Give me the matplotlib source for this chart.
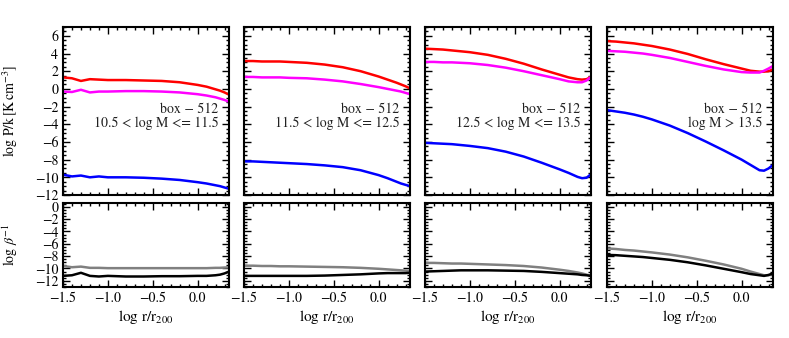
import numpy as np
import matplotlib
matplotlib.use("Agg")
import matplotlib.pyplot as plt
from matplotlib.ticker import MultipleLocator

plt.rcParams['font.family'] = 'serif'
plt.rcParams['font.serif'] = ['STIXGeneral', 'Liberation Serif', 'DejaVu Serif']
plt.rcParams['mathtext.fontset'] = 'stix'
plt.rcParams['font.size'] = 9

# ------------------------------------------------------------------
# data (log r/r200 grid shared by all curves)
# ------------------------------------------------------------------
x = [-1.5, -1.4, -1.3, -1.2, -1.1, -1.0, -0.8, -0.6, -0.4, -0.2,
     0.0, 0.1, 0.2, 0.25, 0.3, 0.35]

mass_bins = ['10.5 < log M <= 11.5',
             '11.5 < log M <= 12.5',
             '12.5 < log M <= 13.5',
             'log M > 13.5']

# top row: log P/k  (red, magenta, blue)
red_1 = [1.3, 1.2, 0.9, 1.1, 1.05, 1.0, 1.0, 0.95, 0.9, 0.75, 0.45, 0.25, -0.05, -0.2, -0.4, -0.65]
mag_1 = [-0.3, -0.35, -0.1, -0.4, -0.3, -0.3, -0.25, -0.25, -0.3, -0.4, -0.6, -0.75, -0.95, -1.1, -1.25, -1.45]
blue_1 = [-9.7, -9.9, -9.8, -10.0, -9.9, -10.0, -10.0, -10.05, -10.15, -10.3, -10.55, -10.7, -10.9, -11.0, -11.15, -11.3]

red_2 = [3.15, 3.15, 3.1, 3.1, 3.1, 3.05, 2.95, 2.75, 2.45, 2.0, 1.4, 1.05, 0.7, 0.5, 0.3, 0.05]
mag_2 = [1.35, 1.35, 1.3, 1.3, 1.3, 1.25, 1.2, 1.05, 0.85, 0.55, 0.2, 0.0, -0.2, -0.3, -0.45, -0.6]
blue_2 = [-8.2, -8.2, -8.25, -8.3, -8.35, -8.4, -8.5, -8.65, -8.85, -9.2, -9.75, -10.1, -10.5, -10.7, -10.85, -11.0]

red_3 = [4.55, 4.5, 4.45, 4.35, 4.25, 4.15, 3.85, 3.4, 2.85, 2.2, 1.6, 1.3, 1.1, 1.05, 1.1, 1.35]
mag_3 = [3.05, 3.05, 3.0, 3.0, 2.95, 2.9, 2.7, 2.4, 2.0, 1.55, 1.1, 0.85, 0.75, 0.75, 0.95, 1.35]
blue_3 = [-6.1, -6.15, -6.2, -6.25, -6.35, -6.45, -6.7, -7.1, -7.65, -8.35, -9.1, -9.5, -9.95, -10.1, -10.05, -9.65]

red_4 = [5.4, 5.35, 5.25, 5.15, 5.0, 4.85, 4.45, 3.95, 3.35, 2.8, 2.3, 2.05, 1.95, 1.95, 2.0, 2.2]
mag_4 = [4.3, 4.25, 4.2, 4.1, 4.0, 3.85, 3.5, 3.05, 2.6, 2.2, 1.9, 1.85, 1.85, 2.05, 2.3, 2.6]
blue_4 = [-2.4, -2.55, -2.7, -2.9, -3.15, -3.45, -4.15, -5.0, -5.95, -6.95, -8.0, -8.6, -9.2, -9.25, -9.0, -8.6]

# bottom row: log beta^-1  (gray, black)
gray_1 = [-9.6, -9.8, -9.7, -9.9, -9.9, -9.95, -9.95, -9.95, -9.95, -9.95, -9.95, -9.95, -9.9, -9.9, -9.85, -9.8]
black_1 = [-11.2, -11.1, -10.7, -11.2, -11.3, -11.2, -11.3, -11.3, -11.25, -11.25, -11.2, -11.2, -11.1, -11.0, -10.8, -10.5]

gray_2 = [-9.55, -9.55, -9.6, -9.6, -9.65, -9.65, -9.7, -9.75, -9.8, -9.9, -10.05, -10.15, -10.25, -10.3, -10.35, -10.4]
black_2 = [-11.2, -11.2, -11.2, -11.2, -11.2, -11.2, -11.2, -11.15, -11.05, -10.95, -10.8, -10.75, -10.75, -10.75, -10.75, -10.7]

gray_3 = [-9.1, -9.1, -9.15, -9.2, -9.2, -9.25, -9.35, -9.45, -9.6, -9.85, -10.2, -10.4, -10.65, -10.8, -11.0, -11.2]
black_3 = [-10.5, -10.45, -10.4, -10.35, -10.3, -10.3, -10.3, -10.35, -10.4, -10.55, -10.75, -10.85, -10.95, -11.05, -11.1, -11.2]

gray_4 = [-6.75, -6.85, -7.0, -7.1, -7.25, -7.4, -7.75, -8.2, -8.75, -9.35, -10.05, -10.5, -10.9, -11.1, -11.1, -10.9]
black_4 = [-7.8, -7.85, -7.95, -8.05, -8.15, -8.3, -8.6, -9.0, -9.5, -10.05, -10.6, -10.9, -11.1, -11.2, -11.05, -10.8]

top_series = [(red_1, mag_1, blue_1), (red_2, mag_2, blue_2),
              (red_3, mag_3, blue_3), (red_4, mag_4, blue_4)]
bot_series = [(gray_1, black_1), (gray_2, black_2),
              (gray_3, black_3), (gray_4, black_4)]

# ------------------------------------------------------------------
W, H = 789, 338
fig = plt.figure(figsize=(W / 100, H / 100), dpi=100)

lefts = [63, 244, 425, 607]
pw = 166


def style(ax):
    ax.tick_params(which='both', direction='in', top=True, right=True,
                   width=1.0, labelsize=10)
    ax.tick_params(which='major', length=5)
    ax.tick_params(which='minor', length=2.5)
    for s in ax.spines.values():
        s.set_linewidth(1.5)
    ax.set_xlim(-1.5, 0.35)
    ax.xaxis.set_major_locator(MultipleLocator(0.5))
    ax.xaxis.set_minor_locator(MultipleLocator(0.1))
    ax.yaxis.set_major_locator(MultipleLocator(2))
    ax.yaxis.set_minor_locator(MultipleLocator(0.5))


for i, left in enumerate(lefts):
    ax_t = fig.add_axes([left / W, (H - 195) / H, pw / W, 168 / H])
    ax_b = fig.add_axes([left / W, (H - 287) / H, pw / W, 84 / H])
    style(ax_t)
    style(ax_b)

    red, mag, blue = top_series[i]
    ax_t.plot(x, red, color='#ff0000', lw=1.8)
    ax_t.plot(x, mag, color='#ff00ff', lw=1.8)
    ax_t.plot(x, blue, color='#0000ff', lw=1.8)
    ax_t.set_ylim(-12, 7)
    ax_t.set_xticklabels([])
    ax_t.text(0.935, 0.47, 'box \u2212 512\n' + mass_bins[i],
              transform=ax_t.transAxes, ha='right', va='center',
              multialignment='right', fontsize=10, color='#222222',
              linespacing=1.05)

    gray, black = bot_series[i]
    ax_b.plot(x, gray, color='#808080', lw=1.8)
    ax_b.plot(x, black, color='black', lw=1.8)
    ax_b.set_ylim(-13, 0.6)
    ax_b.set_xlabel(r'$\log\,\mathrm{r/r_{200}}$', fontsize=11, labelpad=2)

    if i == 0:
        ax_t.set_ylabel(r'$\log\,\mathrm{P/k\,[K\,cm^{-3}]}$', fontsize=10)
        ax_b.set_ylabel(r'$\log\,\beta^{-1}$', fontsize=10)
        ax_t.yaxis.set_label_coords(-0.26, 0.5)
        ax_b.yaxis.set_label_coords(-0.26, 0.5)
    else:
        ax_t.set_yticklabels([])
        ax_b.set_yticklabels([])

fig.savefig('out.png', dpi=100)
